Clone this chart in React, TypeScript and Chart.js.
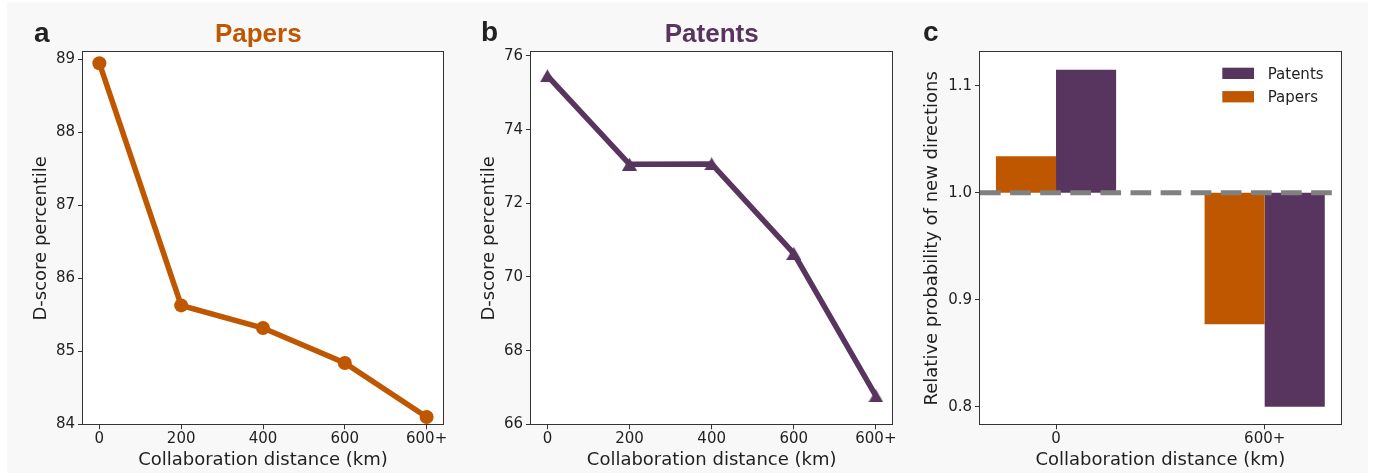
import React, { useEffect, useRef } from "react";
import { Chart, registerables } from "chart.js";

Chart.register(...registerables);

// ---------- data ----------
const distanceLabels = ["0", "200", "400", "600", "600+"];
const distancePositions = [0, 1, 2, 3, 4];
const papersDScore = [88.95, 85.63, 85.32, 84.84, 84.1];
const patentsDScore = [75.46, 73.06, 73.07, 70.64, 66.77];
const papersYTicks = [84, 85, 86, 87, 88, 89];
const patentsYTicks = [66, 68, 70, 72, 74, 76];

const groupLabels = ["0", "600+"];
const groupPositions = [0, 1];
const papersRelProb = [1.034, 0.877];
const patentsRelProb = [1.115, 0.8];
const relBaseline = 1.0;
const relYTicks = [0.8, 0.9, 1.0, 1.1];

// ---------- style ----------
const ORANGE = "#bf5700";
const PURPLE = "#58355e";
const GRAY = "#808080";
const INK = "#1f1f1f";
const AXIS = "#333333";
const FONT = "'DejaVu Sans', Verdana, sans-serif";
const BOLD_FONT = "'Liberation Sans', Arial, Helvetica, sans-serif";
const H = 473;

const tickFont = { family: FONT, size: 15, lineHeight: 1.2 };
const axisTitleFont = { family: FONT, size: 18, lineHeight: 1 };

function makeTriangle(w: number, h: number, color: string) {
  const c = document.createElement("canvas");
  c.width = w;
  c.height = h;
  const ctx = c.getContext("2d")!;
  ctx.fillStyle = color;
  ctx.beginPath();
  ctx.moveTo(w / 2, 0);
  ctx.lineTo(w, h);
  ctx.lineTo(0, h);
  ctx.closePath();
  ctx.fill();
  return c;
}

function xScale(min: number, max: number, positions: number[], labels: string[], heightPx: number) {
  return {
    type: "linear" as const,
    min,
    max,
    offset: false,
    afterBuildTicks: (s: any) => {
      s.ticks = positions.map((v) => ({ value: v }));
    },
    afterFit: (s: any) => {
      s.height = heightPx;
    },
    ticks: {
      callback: (v: any) => labels[positions.indexOf(Number(v))],
      font: tickFont,
      color: INK,
      padding: 1,
      maxRotation: 0,
      autoSkip: false,
    },
    grid: {
      display: true,
      drawOnChartArea: false,
      drawTicks: true,
      tickLength: 5,
      color: AXIS,
      lineWidth: 1,
      offset: false,
    },
    border: { display: false },
    title: {
      display: true,
      text: "Collaboration distance (km)",
      font: axisTitleFont,
      color: INK,
      padding: { top: 0, bottom: 3.7 },
    },
  };
}

function yScale(
  min: number,
  max: number,
  ticksArr: number[],
  title: string,
  titlePadTop: number,
  widthPx: number,
  fmt: (v: number) => string
) {
  return {
    type: "linear" as const,
    min,
    max,
    afterBuildTicks: (s: any) => {
      s.ticks = ticksArr.map((v) => ({ value: v }));
    },
    afterFit: (s: any) => {
      s.width = widthPx;
    },
    ticks: {
      callback: (v: any) => fmt(Number(v)),
      font: tickFont,
      color: INK,
      padding: 3,
    },
    grid: {
      display: true,
      drawOnChartArea: false,
      drawTicks: true,
      tickLength: 5,
      color: AXIS,
      lineWidth: 1,
    },
    border: { display: false },
    title: {
      display: true,
      text: title,
      font: axisTitleFont,
      color: INK,
      padding: { top: titlePadTop, bottom: 0 },
    },
  };
}

const whiteAreaPlugin = {
  id: "whiteArea",
  beforeDraw(chart: any) {
    const { ctx, chartArea } = chart;
    ctx.save();
    ctx.fillStyle = "#ffffff";
    ctx.fillRect(chartArea.left, chartArea.top, chartArea.right - chartArea.left, chartArea.bottom - chartArea.top);
    ctx.restore();
  },
};

const framePlugin = {
  id: "frame",
  afterDatasetsDraw(chart: any) {
    const { ctx, chartArea } = chart;
    const l = Math.round(chartArea.left) - 0.5;
    const t = Math.round(chartArea.top) - 0.5;
    const r = Math.round(chartArea.right) + 0.5;
    const b = Math.round(chartArea.bottom) + 0.5;
    ctx.save();
    ctx.strokeStyle = AXIS;
    ctx.lineWidth = 1;
    ctx.strokeRect(l, t, r - l, b - t);
    ctx.restore();
  },
};

const panelTextPlugin = {
  id: "panelText",
  afterDraw(chart: any, _args: any, opts: any) {
    if (!opts || !opts.letter) return;
    const { ctx } = chart;
    ctx.save();
    ctx.textBaseline = "alphabetic";
    ctx.textAlign = "left";
    ctx.fillStyle = "#222222";
    ctx.font = `bold 28px ${BOLD_FONT}`;
    ctx.fillText(opts.letter, opts.letterX, opts.letterY);
    if (opts.title) {
      ctx.textAlign = "center";
      ctx.fillStyle = opts.titleColor;
      ctx.font = `bold 26px ${BOLD_FONT}`;
      ctx.fillText(opts.title, opts.titleX, opts.titleY);
    }
    ctx.restore();
  },
};

const innerLegendPlugin = {
  id: "innerLegend",
  afterDraw(chart: any, _args: any, opts: any) {
    if (!opts || !opts.items) return;
    const { ctx } = chart;
    ctx.save();
    ctx.font = `15px ${FONT}`;
    ctx.textBaseline = "alphabetic";
    ctx.textAlign = "left";
    opts.items.forEach((dsIndex: number, row: number) => {
      const ds = chart.data.datasets[dsIndex];
      const y = opts.top + row * opts.rowGap;
      ctx.fillStyle = ds.backgroundColor;
      ctx.fillRect(opts.patchX, y, opts.patchW, opts.patchH);
      ctx.fillStyle = INK;
      ctx.fillText(ds.label, opts.textX, y + opts.baselineOffset);
    });
    ctx.restore();
  },
};

function buildPapers(): any {
  return {
    type: "line",
    data: {
      datasets: [
        {
          label: "Papers",
          data: distancePositions.map((x, i) => ({ x, y: papersDScore[i] })),
          borderColor: ORANGE,
          backgroundColor: ORANGE,
          borderWidth: 5.5,
          pointStyle: "circle",
          pointRadius: 7,
          pointBorderWidth: 0,
          pointBackgroundColor: ORANGE,
          tension: 0,
          clip: false,
        },
      ],
    },
    options: {
      animation: false,
      responsive: true,
      maintainAspectRatio: false,
      devicePixelRatio: 1,
      layout: { padding: { left: 0, top: 52.3, right: 17, bottom: 0 } },
      scales: {
        x: xScale(-0.2, 4.2, distancePositions, distanceLabels, H - 424.3),
        y: yScale(84, 89.1, papersYTicks, "D-score percentile", 32.1, 83, (v) => String(v)),
      },
      plugins: {
        legend: { display: false },
        tooltip: { enabled: false },
        panelText: { letter: "a", letterX: 34, letterY: 42, title: "Papers", titleX: 258.3, titleY: 41.7, titleColor: ORANGE },
      },
    },
    plugins: [whiteAreaPlugin, framePlugin, panelTextPlugin],
  };
}

function buildPatents(): any {
  const tri = makeTriangle(15, 13, PURPLE);
  return {
    type: "line",
    data: {
      datasets: [
        {
          label: "Patents",
          data: distancePositions.map((x, i) => ({ x, y: patentsDScore[i] })),
          borderColor: PURPLE,
          backgroundColor: PURPLE,
          borderWidth: 5.5,
          pointStyle: tri,
          pointRadius: 8,
          tension: 0,
          clip: false,
        },
      ],
    },
    options: {
      animation: false,
      responsive: true,
      maintainAspectRatio: false,
      devicePixelRatio: 1,
      layout: { padding: { left: 0, top: 52.3, right: 27.7, bottom: 0 } },
      scales: {
        x: xScale(-0.2, 4.2, distancePositions, distanceLabels, H - 424.3),
        y: yScale(66, 76.1, patentsYTicks, "D-score percentile", 20.5, 71, (v) => String(v)),
      },
      plugins: {
        legend: { display: false },
        tooltip: { enabled: false },
        panelText: { letter: "b", letterX: 21, letterY: 41, title: "Patents", titleX: 251.7, titleY: 41.7, titleColor: PURPLE },
      },
    },
    plugins: [whiteAreaPlugin, framePlugin, panelTextPlugin],
  };
}

function buildRelative(): any {
  const xMin = -0.3643;
  const xMax = 1.3643;
  return {
    type: "bar",
    data: {
      datasets: [
        {
          type: "line",
          label: "baseline",
          data: [
            { x: xMin, y: relBaseline },
            { x: xMax, y: relBaseline },
          ],
          borderColor: GRAY,
          borderWidth: 5,
          borderDash: [20.7, 9.4],
          borderCapStyle: "butt",
          pointRadius: 0,
          order: 0,
          clip: false,
        },
        {
          label: "Papers",
          data: groupPositions.map((x, i) => ({ x, y: [relBaseline, papersRelProb[i]] })),
          backgroundColor: ORANGE,
          borderWidth: 0,
          categoryPercentage: 0.576,
          barPercentage: 1,
          order: 1,
        },
        {
          label: "Patents",
          data: groupPositions.map((x, i) => ({ x, y: [relBaseline, patentsRelProb[i]] })),
          backgroundColor: PURPLE,
          borderWidth: 0,
          categoryPercentage: 0.576,
          barPercentage: 1,
          order: 1,
        },
      ],
    },
    options: {
      animation: false,
      responsive: true,
      maintainAspectRatio: false,
      devicePixelRatio: 1,
      layout: { padding: { left: 0, top: 52.3, right: 34.3, bottom: 0 } },
      scales: {
        x: { ...xScale(xMin, xMax, groupPositions, groupLabels, H - 424.3), grid: { ...xScale(0, 1, [], [], 0).grid } },
        y: yScale(0.78355, 1.1312, relYTicks, "Relative probability of new directions", 3.3, 60, (v) => v.toFixed(1)),
      },
      plugins: {
        legend: { display: false },
        tooltip: { enabled: false },
        panelText: { letter: "c", letterX: 3, letterY: 41 },
        innerLegend: {
          items: [2, 1],
          patchX: 302.3,
          patchW: 31.7,
          patchH: 11.3,
          top: 67.7,
          rowGap: 23.4,
          textX: 347.7,
          baselineOffset: 11.3,
        },
      },
    },
    plugins: [whiteAreaPlugin, framePlugin, panelTextPlugin, innerLegendPlugin],
  };
}

function Panel({ left, width, build }: { left: number; width: number; build: () => any }) {
  const ref = useRef<HTMLCanvasElement>(null);
  useEffect(() => {
    if (!ref.current) return;
    const chart = new Chart(ref.current, build());
    return () => chart.destroy();
  }, [build]);
  return (
    <div style={{ position: "absolute", left, top: 0, width, height: H }}>
      <canvas ref={ref} />
    </div>
  );
}

export default function App() {
  return (
    <div style={{ position: "absolute", left: 0, top: 0, width: 1375, height: H, background: "#ffffff", overflow: "hidden" }}>
      <div style={{ position: "absolute", left: 7, top: 2, width: 1361, height: H - 2, background: "#f8f8f8" }} />
      <Panel left={0} width={460} build={buildPapers} />
      <Panel left={460} width={460} build={buildPatents} />
      <Panel left={920} width={455} build={buildRelative} />
    </div>
  );
}
